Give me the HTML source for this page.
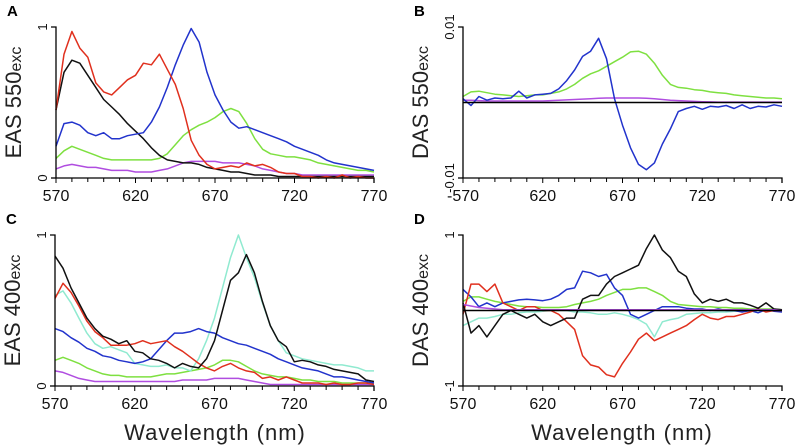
<!DOCTYPE html>
<html><head><meta charset="utf-8"><style>
body{margin:0;background:#fff;width:795px;height:448px;overflow:hidden}
svg{display:block;font-family:"Liberation Sans",sans-serif}
</style></head><body>
<svg id="c" width="795" height="448"></svg>
<script>
const wavelengths=[];for(let w=570;w<=770;w+=5)wavelengths.push(w);
const xTicks=[570,620,670,720,770];
// Panel A (EAS 550exc)
const aBlack=[0.45,0.7,0.78,0.76,0.68,0.6,0.52,0.47,0.42,0.36,0.31,0.26,0.2,0.15,0.12,0.11,0.1,0.1,0.09,0.07,0.06,0.05,0.04,0.04,0.03,0.02,0.02,0.02,0.01,0.01,0.01,0.01,0.01,0.01,0.01,0.01,0.01,0.01,0.01,0.01,0.01];
const aRed=[0.45,0.82,0.97,0.86,0.8,0.63,0.57,0.55,0.6,0.65,0.68,0.76,0.75,0.82,0.72,0.62,0.46,0.25,0.15,0.09,0.06,0.07,0.08,0.07,0.1,0.08,0.09,0.07,0.04,0.03,0.03,0.01,0.01,0,0.01,0,0.02,0,0.01,0,0];
const aBlue=[0.21,0.36,0.37,0.35,0.3,0.28,0.3,0.26,0.26,0.28,0.29,0.3,0.37,0.47,0.6,0.75,0.88,0.99,0.9,0.7,0.55,0.45,0.37,0.33,0.34,0.32,0.3,0.28,0.26,0.24,0.21,0.19,0.17,0.15,0.12,0.1,0.09,0.08,0.07,0.06,0.05];
const aGreen=[0.13,0.18,0.21,0.19,0.17,0.15,0.13,0.12,0.12,0.12,0.12,0.12,0.12,0.13,0.16,0.22,0.28,0.32,0.35,0.37,0.4,0.44,0.46,0.44,0.36,0.26,0.19,0.16,0.15,0.14,0.14,0.13,0.12,0.1,0.09,0.08,0.07,0.06,0.05,0.05,0.04];
const aMagenta=[0.06,0.08,0.09,0.08,0.07,0.07,0.06,0.05,0.05,0.05,0.04,0.04,0.04,0.05,0.06,0.08,0.1,0.11,0.11,0.11,0.11,0.1,0.1,0.1,0.09,0.08,0.06,0.05,0.04,0.03,0.03,0.02,0.02,0.02,0.02,0.02,0.02,0.02,0.02,0.02,0.02];
// Panel B (DAS 550exc), units of 0.001
const bBlue=[0.5,-0.4,0.8,0.3,0.6,0.5,0.6,1.5,0.6,1.0,1.1,1.2,1.8,2.9,4.3,6.1,6.8,8.5,5.8,0.5,-3.0,-6.0,-8.2,-8.9,-8.0,-5.5,-3.5,-1.2,-0.8,-0.5,-0.9,-0.5,-0.6,-0.4,-0.8,-0.3,-0.8,-0.5,-0.6,-0.3,-0.5];
const bGreen=[0.8,1.4,1.5,1.3,1.1,1.0,0.9,0.8,0.9,1.0,1.0,1.2,1.4,1.8,2.4,3.2,3.8,4.2,4.8,5.4,6.0,6.7,6.8,6.4,5.2,3.6,2.4,2.0,1.9,1.7,1.6,1.4,1.3,1.2,1.0,0.9,0.8,0.7,0.6,0.6,0.5];
const bMagenta=[0.3,0.3,0.25,0.2,0.2,0.2,0.2,0.2,0.2,0.2,0.2,0.25,0.3,0.35,0.4,0.45,0.5,0.55,0.6,0.6,0.6,0.6,0.6,0.55,0.5,0.4,0.3,0.25,0.2,0.15,0.1,0.08,0.05,0.05,0.05,0.05,0.05,0.05,0.05,0.05,0.05];
// Panel C (EAS 400exc)
const cBlack=[0.86,0.78,0.65,0.55,0.45,0.38,0.33,0.31,0.28,0.3,0.23,0.22,0.18,0.17,0.15,0.12,0.15,0.13,0.12,0.18,0.3,0.5,0.7,0.75,0.87,0.75,0.56,0.4,0.3,0.26,0.16,0.17,0.16,0.14,0.13,0.11,0.1,0.09,0.08,0.04,0.03];
const cRed=[0.58,0.68,0.62,0.53,0.43,0.36,0.32,0.27,0.27,0.27,0.28,0.3,0.28,0.29,0.3,0.26,0.23,0.19,0.15,0.12,0.1,0.13,0.15,0.12,0.1,0.09,0.05,0.06,0.04,0.06,0.04,0.02,0.02,0.02,0.01,0.02,0.01,0.01,0.02,0.02,0.01];
const cTeal=[0.6,0.63,0.55,0.45,0.35,0.28,0.25,0.26,0.24,0.22,0.15,0.14,0.13,0.13,0.14,0.12,0.12,0.1,0.18,0.3,0.45,0.65,0.85,1.0,0.85,0.72,0.55,0.4,0.3,0.22,0.2,0.18,0.17,0.16,0.15,0.14,0.14,0.13,0.12,0.1,0.1];
const cBlue=[0.38,0.36,0.32,0.29,0.25,0.23,0.2,0.19,0.17,0.16,0.15,0.16,0.18,0.24,0.3,0.35,0.35,0.36,0.38,0.36,0.35,0.32,0.3,0.28,0.27,0.25,0.23,0.21,0.18,0.16,0.14,0.12,0.11,0.1,0.08,0.06,0.06,0.05,0.04,0.03,0.02];
const cGreen=[0.17,0.19,0.17,0.15,0.12,0.1,0.08,0.07,0.07,0.06,0.06,0.06,0.06,0.07,0.08,0.08,0.09,0.1,0.11,0.12,0.14,0.17,0.17,0.16,0.13,0.1,0.08,0.07,0.06,0.06,0.05,0.04,0.04,0.03,0.03,0.03,0.02,0.02,0.02,0.02,0.02];
const cMagenta=[0.1,0.09,0.07,0.05,0.04,0.03,0.03,0.03,0.03,0.03,0.03,0.03,0.03,0.03,0.03,0.03,0.04,0.04,0.04,0.04,0.05,0.05,0.05,0.05,0.04,0.03,0.02,0.01,0.01,0.01,0.01,0.01,0.01,0.01,0.01,0.01,0.01,0.01,0.01,0.01,0.01];
// Panel D (DAS 400exc)
const dBlack=[0.1,-0.3,-0.2,-0.35,-0.2,-0.05,0,-0.05,-0.1,-0.05,-0.15,-0.2,-0.15,-0.1,-0.1,0.15,0.2,0.2,0.35,0.45,0.5,0.55,0.6,0.82,1.0,0.8,0.7,0.52,0.45,0.22,0.1,0.15,0.12,0.15,0.1,0.1,0.07,0.03,0.1,0.02,0.01];
const dRed=[-0.05,0.35,0.35,0.25,0.35,0.1,0.05,0,0.05,0.05,0,0,-0.05,-0.15,-0.25,-0.6,-0.72,-0.75,-0.85,-0.88,-0.7,-0.55,-0.38,-0.3,-0.4,-0.35,-0.3,-0.25,-0.2,-0.12,-0.05,-0.1,-0.12,-0.08,-0.08,-0.05,-0.02,0.02,-0.02,0,0];
const dBlue=[0.28,0.18,0.05,0.1,0.05,0.1,0.12,0.14,0.15,0.14,0.13,0.15,0.2,0.28,0.3,0.52,0.5,0.45,0.48,0.3,0.2,-0.05,-0.1,-0.05,0,0.05,0.05,0.05,0.03,0.02,0.02,0,0.02,0,0,-0.02,0,-0.03,0.01,-0.01,-0.02];
const dGreen=[0.12,0.18,0.18,0.15,0.12,0.1,0.08,0.06,0.05,0.05,0.04,0.04,0.04,0.05,0.08,0.1,0.12,0.15,0.2,0.24,0.28,0.28,0.3,0.3,0.25,0.2,0.12,0.08,0.07,0.06,0.05,0.05,0.04,0.04,0.03,0.03,0.02,0.02,0.02,0.02,0.01];
const dTeal=[-0.2,-0.15,-0.1,-0.1,-0.08,-0.05,-0.05,-0.03,-0.02,-0.02,-0.01,0,0,0,-0.02,-0.02,-0.03,-0.05,-0.05,-0.03,-0.05,-0.08,-0.12,-0.18,-0.35,-0.15,-0.12,-0.1,-0.05,-0.04,-0.03,-0.03,-0.02,-0.02,-0.01,-0.01,-0.01,0,0,0,0];
const dMagenta=[0.08,0.06,0.04,0.03,0.02,0.01,0.01,0.01,0.01,0.01,0.01,0.01,0.01,0.01,0.01,0.01,0.01,0.01,0.01,0.01,0.01,0.01,0.01,0.01,0.01,0.01,0.01,0.01,0.01,0.01,0.01,0.01,0.01,0.01,0.01,0.01,0.01,0.01,0.01,0.01,0];

const COL={black:"#111",red:"#e0301e",blue:"#2233cc",green:"#7ee040",magenta:"#b04de0",teal:"#90ead0"};
const NS="http://www.w3.org/2000/svg";
const svg=document.getElementById('c');
function mk(tag,attrs,parent){const e=document.createElementNS(NS,tag);for(const k in attrs)e.setAttribute(k,attrs[k]);(parent||svg).appendChild(e);return e;}

function panel(o){
  const g=mk('g',{});
  
  
  const xS=w=>o.x0+(w-570)/200*(o.x1-o.x0);
  const yS=v=>o.yb-(v-o.vmin)/(o.vmax-o.vmin)*(o.yb-o.yt);
  // series
  o.series.forEach(s=>{
    const d=s.data.map((v,i)=>(i?'L':'M')+xS(wavelengths[i]).toFixed(1)+','+yS(v).toFixed(1)).join('');
    const p=mk('path',{d:d,fill:'none',stroke:COL[s.c],'stroke-width':1.5,'stroke-linejoin':'round'},g);
    
    
  });
  if(o.zero){
    const z=mk('line',{x1:o.x0,x2:o.x1,y1:yS(0),y2:yS(0),stroke:'#000','stroke-width':1.6},g);
    
    
  }
  // axes
  const ax=mk('path',{d:`M${o.x0-5},${o.yt}H${o.x0}V${o.yb}H${o.x1}V${o.yb+5}`,fill:'none',stroke:'#000','stroke-width':1.3},g);
  
  
  mk('line',{x1:o.x0-5,x2:o.x0,y1:o.yb,y2:o.yb,stroke:'#000','stroke-width':1.3},g);
  for(let w=570;w<=770;w+=10){
    mk('line',{x1:xS(w),x2:xS(w),y1:o.yb,y2:o.yb+(w%50===20?5:4),stroke:'#000','stroke-width':1},g);
  }
  xTicks.forEach(w=>{
    const t=mk('text',{x:xS(w),y:o.yb+23,'font-size':16,'text-anchor':'middle',fill:'#111'},g);
    t.textContent=(o.neg570&&w===570?'-':'')+w;
    
    
  });
  [[o.vmax,o.topLabel],[o.vmin,o.botLabel]].forEach(([v,l])=>{
    const y=yS(v),x=o.x0-9;
    const t=mk('text',{x:x,y:y,'font-size':13,'text-anchor':'middle',transform:`rotate(-90 ${x} ${y})`,fill:'#111'},g);
    t.textContent=l;
    
    
  });
  const tx=o.x0-35,ty=(o.yt+o.yb)/2;
  const tt=mk('text',{x:tx,y:ty,'font-size':22,'text-anchor':'middle',transform:`rotate(-90 ${tx} ${ty})`,fill:'#222'},g);
  tt.innerHTML=o.title+'<tspan font-size="16">exc</tspan>';
  
  
  const pl=mk('text',{x:o.x0-49,y:o.yt-11,'font-size':15,'font-weight':'bold',fill:'#000'},g);
  pl.textContent=o.letter;
  
  
}
panel({name:'panel-a',letter:'A',x0:56,x1:374,yt:27,yb:178,vmin:0,vmax:1,topLabel:'1',botLabel:'0',title:'EAS 550',
  series:[{c:'magenta',data:aMagenta},{c:'green',data:aGreen},{c:'black',data:aBlack},{c:'blue',data:aBlue},{c:'red',data:aRed}]});
panel({name:'panel-b',letter:'B',x0:463,x1:782,yt:27,yb:178,vmin:-10,vmax:10,topLabel:'0.01',botLabel:'-0.01',title:'DAS 550',zero:true,neg570:true,
  series:[{c:'magenta',data:bMagenta},{c:'green',data:bGreen},{c:'blue',data:bBlue}]});
panel({name:'panel-c',letter:'C',x0:55,x1:374,yt:235,yb:386,vmin:0,vmax:1,topLabel:'1',botLabel:'0',title:'EAS 400',
  series:[{c:'magenta',data:cMagenta},{c:'green',data:cGreen},{c:'teal',data:cTeal},{c:'blue',data:cBlue},{c:'red',data:cRed},{c:'black',data:cBlack}]});
panel({name:'panel-d',letter:'D',x0:463,x1:782,yt:235,yb:386,vmin:-1,vmax:1,topLabel:'1',botLabel:'-1',title:'DAS 400',zero:true,
  series:[{c:'teal',data:dTeal},{c:'green',data:dGreen},{c:'blue',data:dBlue},{c:'red',data:dRed},{c:'black',data:dBlack},{c:'magenta',data:dMagenta}]});
[[215,'x-axis-title-left'],[622,'x-axis-title-right']].forEach(([x,n])=>{
  const t=mk('text',{x:x,y:440,'font-size':22,'text-anchor':'middle',fill:'#222','letter-spacing':'1'});
  t.textContent='Wavelength (nm)';
  
  
});
</script>
</body></html>
